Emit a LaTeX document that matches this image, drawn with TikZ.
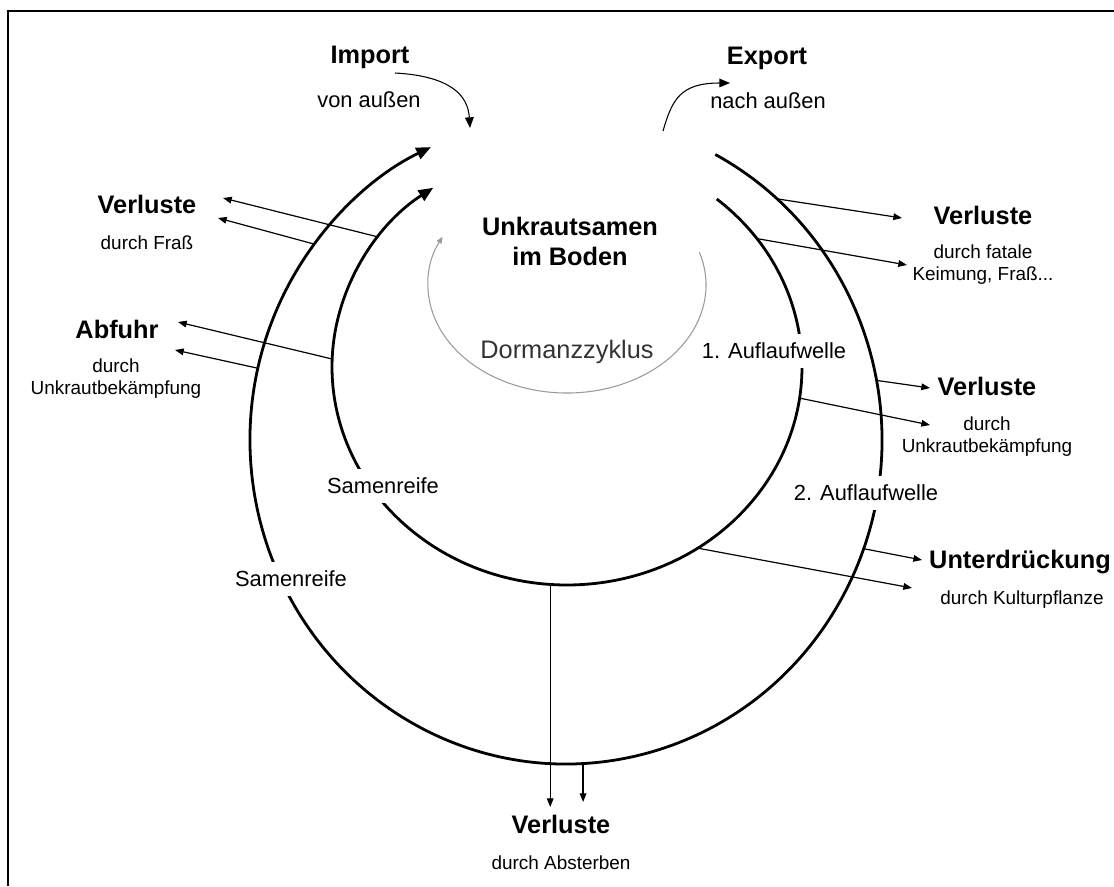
\documentclass[tikz,border=0pt]{standalone}
\usepackage{fontspec}
\setmainfont{Liberation Sans}
\usetikzlibrary{calc,arrows.meta}
\definecolor{ink}{HTML}{000000}
\definecolor{greyarc}{HTML}{9A9A9A}
\definecolor{greytext}{HTML}{333333}
\tikzset{
  cyc/.style={draw=ink, line width=2.1pt, -{Triangle[length=11pt,width=9pt]}},
  loss/.style={draw=ink, line width=0.9pt, -{Triangle[length=6.5pt,width=5pt]}},
  flow/.style={draw=ink, line width=0.8pt, -{Triangle[length=8pt,width=6.5pt]}},
  dorm/.style={draw=greyarc, line width=0.8pt, -{Triangle[length=5pt,width=4pt]}},
  head/.style={text=ink, font=\fontsize{19}{22.5}\selectfont\bfseries, align=center, inner sep=0pt},
  sub/.style={text=ink, font=\fontsize{14.2}{16.5}\selectfont, align=center, inner sep=0pt},
  mid/.style={text=ink, font=\fontsize{16.4}{19}\selectfont, inner sep=0pt},
  gap/.style={fill=white, inner xsep=2pt, inner ysep=7pt},
}
\begin{document}
\begin{tikzpicture}[x=0.75pt, y=-0.75pt]
  \useasboundingbox (0,0) rectangle (1114,886);
  \draw[ink, line width=2.2pt] (8,886) -- (8,11) -- (1114,11);
  % centres of the two cycles and the dormancy loop
  \coordinate (CO) at (566,440);
  \coordinate (CI) at (567,367);
  \coordinate (CD) at (567,285);
  \draw[cyc] ($(CO)+(-61.8:316 and 324)$) arc[start angle=-61.8, end angle=244.7, x radius=316, y radius=324];
  \draw[cyc] ($(CI)+(-50.4:235 and 218)$) arc[start angle=-50.4, end angle=235.3, x radius=235, y radius=218];
  \draw[dorm] ($(CD)+(-17.7:139 and 108)$) arc[start angle=-17.7, end angle=206.5, x radius=139, y radius=108];
  % texts
  \node[head, anchor=base] (imp) at (370,63) {Import};
  \node[mid] (impsub) at (369,100) {von außen};
  \node[head, anchor=base] (exp) at (767,64) {Export};
  \node[mid] (expsub) at (768,101) {nach außen};
  \node[head] (seed) at (570,241) {Unkrautsamen\\im Boden};
  \node[mid, text=greytext, font=\fontsize{19}{22}\selectfont] (dormlab) at (567,352) {Dormanzzyklus};
  \node[mid, gap] (wave1) at (774,351) {1. Auflaufwelle};
  \node[mid, gap] (wave2) at (866,493) {2. Auflaufwelle};
  \node[mid, gap] (ripe1) at (383,486) {Samenreife};
  \node[mid, gap] (ripe2) at (291,579) {Samenreife};
  \node[head] (lossA) at (147,204) {Verluste};
  \node[sub] (lossAsub) at (147,243) {durch Fraß};
  \node[head] (abf) at (117,329) {Abfuhr};
  \node[sub] (abfsub) at (116,379) {durch\\Unkrautbekämpfung};
  \node[head] (lossB) at (983,215) {Verluste};
  \node[sub] (lossBsub) at (983,265) {durch fatale\\Keimung, Fraß...};
  \node[head] (lossC) at (987,386) {Verluste};
  \node[sub] (lossCsub) at (987,437) {durch\\Unkrautbekämpfung};
  \node[head] (supp) at (1020,562) {Unterdrückung};
  \node[sub] (suppsub) at (1022,600) {durch Kulturpflanze};
  \node[head] (lossD) at (561,824) {Verluste};
  \node[sub] (lossDsub) at (561,863) {durch Absterben};
  % import / export
  \coordinate (imS) at (395,73);
  \coordinate (imE) at (470,128);
  \coordinate (exS) at (663,131);
  \coordinate (exE) at (730,83);
  \draw[flow] (imS) .. controls (450,76) and (468,95) .. (imE);
  \draw[flow] (exS) .. controls (672,100) and (680,83) .. (exE);
  % loss arrows, start points on the cycles
  \coordinate (o1) at ($(CO)+(217.2:316 and 324)$);
  \coordinate (o2) at ($(CO)+(192.8:316 and 324)$);
  \coordinate (o3) at ($(CO)+(-48.1:316 and 324)$);
  \coordinate (o4) at ($(CO)+(-10.6:316 and 324)$);
  \coordinate (o5) at ($(CO)+(19.6:316 and 324)$);
  \coordinate (o6) at ($(CO)+(86.9:316 and 324)$);
  \coordinate (i1) at ($(CI)+(216.6:235 and 218)$);
  \coordinate (i2) at ($(CI)+(182.1:235 and 218)$);
  \coordinate (i3) at ($(CI)+(-36.1:235 and 218)$);
  \coordinate (i4) at ($(CI)+(8.2:235 and 218)$);
  \coordinate (i5) at ($(CI)+(56.2:235 and 218)$);
  \coordinate (i6) at ($(CI)+(94.1:235 and 218)$);
  \coordinate (tA1) at (223,198);
  \coordinate (tA2) at (218,218);
  \coordinate (tB1) at (178,322);
  \coordinate (tB2) at (175,350);
  \coordinate (tC1) at (902,218);
  \coordinate (tC2) at (907,265);
  \coordinate (tD1) at (930,388);
  \coordinate (tD2) at (930,425);
  \coordinate (tE1) at (922,560);
  \coordinate (tE2) at (912,588);
  \coordinate (tF1) at (550,807);
  \coordinate (tF2) at (583,802);
  \foreach \s/\t in {i1/tA1, o1/tA2, i2/tB1, o2/tB2, o3/tC1, i3/tC2, o4/tD1, i4/tD2, o5/tE1, i5/tE2}
    \draw[loss] (\s) -- (\t);
  \draw[loss] (i6) -- (i6 |- tF1);
  \draw[loss] (o6) -- (o6 |- tF2);
\end{tikzpicture}
\end{document}
